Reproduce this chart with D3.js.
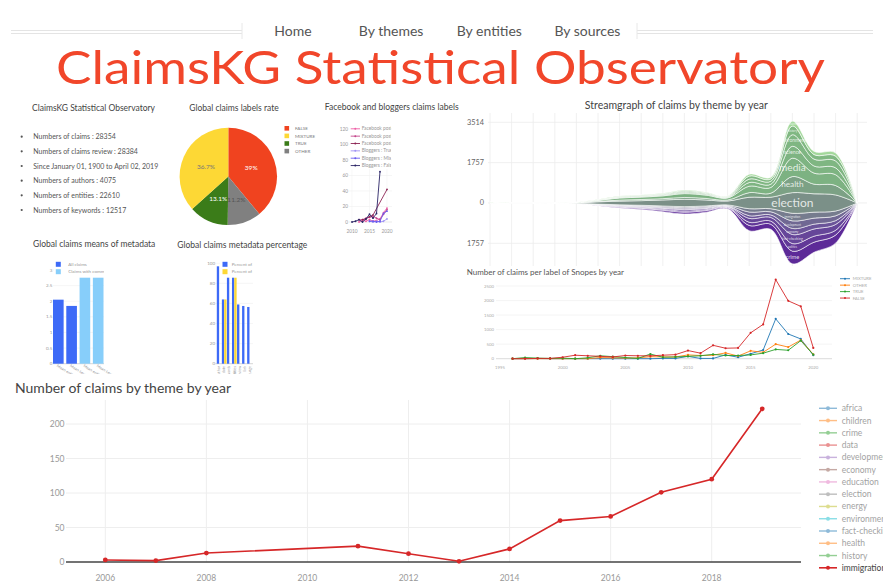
<!DOCTYPE html>
<html>
<head>
<meta charset="utf-8">
<style>
  body { margin: 0; background: #fff; }
  text { font-family: Lato, "Open Sans", sans-serif; }
</style>
</head>
<body>
<div id="container"></div>
<script src="https://d3js.org/d3.v7.min.js"></script>
<script>
// ---------- data ----------
var navItems = ["Home", "By themes", "By entities", "By sources"];
var statLines = ["Numbers of claims : 28354", "Numbers of claims review : 28384",
  "Since January 01, 1900 to April 02, 2019", "Numbers of authors : 4075",
  "Numbers of entities : 22610", "Numbers of keywords : 12517"];

var pieLabels = ["FALSE", "MIXTURE", "TRUE", "OTHER"];
var pieValues = [39, 36.7, 13.1, 11.2];
var pieColors = ["#f0431f", "#fdd835", "#3b7c19", "#808080"];

var fbYears = [2010, 2011, 2012, 2013, 2014, 2015, 2016, 2017, 2018, 2019, 2020];
var fbNames = ["Facebook posts : TRUE", "Facebook posts : MIXTURE", "Facebook posts : FALSE",
  "Bloggers : True", "Bloggers : Mixture", "Bloggers : False"];
var fbColors = ["#ee5ea6", "#c4488c", "#8c2453", "#a093f3", "#6a5cf0", "#2b2566"];
var fbTrue = [null, null, 0, 2, 1, 3, 1, 2, 4, 12, 18];
var fbMixture = [null, null, 3, 3, 5, 6, 7, 5, 3, 10, 16];
var fbFalse = [null, null, null, 3, 4, 7, 9, null, null, null, 42];
var blTrue = [null, null, null, null, null, 1, 0, 1, 0, 1, 4];
var blMixture = [null, null, null, null, null, 1, 1, 0, 1, 11, 14];
var blFalse = [0, 1, 3, 0, 4, 10, 5, 11, 65, null, null];

var streamYears = [2002, 2003, 2004, 2005, 2006, 2007, 2008, 2009, 2010, 2011, 2012, 2013, 2014, 2015, 2016, 2017, 2018, 2019];
var streamThemes = ["crime", "politics", "fact-checking", "economy", "development", "immigration",
  "election", "health", "media", "science", "environment", "history", "entertainment"];
var crimeV = [0, 1, 1, 0, 3, 18, 35, 45, 62, 80, 68, 40, 230, 225, 550, 440, 350, 0];
var politicsV = [0, 0, 0, 1, 1, 10, 20, 27, 38, 48, 40, 25, 140, 135, 330, 262, 210, 0];
var factCheckV = [0, 1, 1, 1, 2, 12, 25, 32, 45, 58, 48, 30, 170, 162, 396, 315, 252, 0];
var economyV = [0, 0, 0, 0, 1, 8, 17, 22, 30, 38, 32, 20, 115, 108, 264, 210, 168, 0];
var developmentV = [0, 1, 1, 0, 2, 12, 22, 28, 38, 48, 42, 26, 160, 135, 330, 262, 210, 0];
var immigrationV = [0, 0, 0, 1, 1, 10, 21, 26, 37, 48, 40, 24, 145, 135, 330, 261, 210, 0];
var electionV = [0, 5, 5, 5, 20, 100, 160, 200, 260, 320, 260, 170, 500, 500, 900, 800, 700, 0];
var healthV = [0, 1, 1, 1, 4, 20, 45, 50, 58, 80, 68, 43, 200, 175, 700, 420, 410, 0];
var mediaV = [30, 3, 3, 3, 8, 42, 92, 105, 122, 168, 143, 92, 280, 250, 800, 480, 470, 0];
var scienceV = [0, 1, 1, 1, 2, 10, 20, 26, 30, 42, 33, 20, 160, 140, 520, 310, 300, 0];
var environmentV = [0, 1, 1, 1, 2, 11, 23, 24, 28, 39, 35, 22, 150, 130, 500, 300, 300, 0];
var historyV = [5, 1, 1, 1, 2, 9, 22, 25, 29, 40, 34, 21, 130, 105, 380, 200, 210, 0];
var entertainmentV = [5, 1, 1, 1, 2, 8, 17, 20, 23, 32, 27, 17, 80, 70, 210, 140, 140, 0];
var streamTicks = [3514, 1757, 0, -1757];

var meansCats = ["Mean entities", "Mean keywords", "Mean entities ", "Mean keywords "];
var meansAll = [2.05, 1.85, null, null];
var meansComments = [null, null, 3.3, 3.3];
var meansNames = ["All claims", "Claims with comments"];

var pctCats = ["author", "date", "keywords", "entities", "review", "link", "language"];
var pctBlue = [97, 64, 95, 98, 59, 57.5, 56.5];
var pctYellow = [null, 64, null, 96, null, null, null];
var pctNames = ["Percent of all claims", "Percent of claims with comments"];

var snYears = [1996, 1997, 1998, 1999, 2000, 2001, 2002, 2003, 2004, 2005, 2006, 2007, 2008,
  2009, 2010, 2011, 2012, 2013, 2014, 2015, 2016, 2017, 2018, 2019, 2020];
var snNames = ["MIXTURE", "OTHER", "TRUE", "FALSE"];
var snColors = ["#1f77b4", "#ff7f0e", "#2ca02c", "#d62728"];
var snMixture = [0, 0, 5, 0, 0, 0, 0, 0, 0, 0, 0, 0, 10, 10, 80, 10, 10, 130, 50, 170, 300, 1370, 850, 680, 120];
var snOther = [0, 0, 0, 0, 0, 0, 0, 40, 30, 20, 30, 70, 60, 60, 130, 110, 120, 200, 90, 270, 220, 500, 400, 640, 150];
var snTrue = [0, 40, 20, 10, 20, 0, 30, 100, 70, 40, 10, 160, 50, 60, 80, 100, 150, 110, 110, 130, 190, 320, 290, 620, 140];
var snFalse = [0, 0, 10, 10, 50, 120, 100, 80, 60, 110, 100, 100, 120, 140, 280, 190, 460, 360, 370, 890, 1180, 2720, 1990, 1800, 370];

var themeYears = [2006, 2007, 2008, 2011, 2012, 2013, 2014, 2015, 2016, 2017, 2018, 2019];
var immigrationCounts = [3, 2, 13, 23, 12, 1, 19, 60, 66, 101, 120, 222];
var legendThemes = ["africa", "children", "crime", "data", "development", "economy", "education",
  "election", "energy", "environment", "fact-checking", "health", "history", "immigration"];
var legendColors = ["#1f77b4", "#ff7f0e", "#2ca02c", "#d62728", "#9467bd", "#8c564b", "#e377c2",
  "#7f7f7f", "#bcbd22", "#17becf", "#1f77b4", "#ff7f0e", "#2ca02c", "#d62728"];

// ---------- page ----------
var svg = d3.select("#container").append("svg")
  .attr("width", 883).attr("height", 587);
var defs = svg.append("defs");
function clip(id, x, y, w, h) {
  defs.append("clipPath").attr("id", id).append("rect")
    .attr("x", x).attr("y", y).attr("width", w).attr("height", h);
  return "url(#" + id + ")";
}

// header nav
[30.5, 33.5].forEach(function (yy) {
  svg.append("line").attr("x1", 11).attr("x2", 242).attr("y1", yy).attr("y2", yy).style("stroke", "#e4e4e4");
  svg.append("line").attr("x1", 637).attr("x2", 873).attr("y1", yy).attr("y2", yy).style("stroke", "#e4e4e4");
});
[242, 637].forEach(function (xx) {
  svg.append("line").attr("x1", xx).attr("x2", xx).attr("y1", 23).attr("y2", 39).style("stroke", "#e8e8e8");
});
var navX = d3.scalePoint().domain(navItems).range([293, 587.4]);
svg.selectAll(".nav").data(navItems).enter().append("text")
  .attr("x", function (d) { return navX(d); }).attr("y", 35.5)
  .attr("text-anchor", "middle").style("font-size", "14px").style("fill", "#555")
  .text(function (d) { return d; });

svg.append("text").attr("x", 56).attr("y", 84)
  .attr("textLength", 769).attr("lengthAdjust", "spacingAndGlyphs")
  .style("font-size", "47px").style("fill", "#f1462a")
  .text("ClaimsKG Statistical Observatory");

function title(txt, x, y, size, anchor, color) {
  svg.append("text").attr("x", x).attr("y", y).attr("text-anchor", anchor || "middle")
    .style("font-size", size + "px").style("fill", color || "#444").text(txt);
}

// stats list
title("ClaimsKG Statistical Observatory", 93.5, 111, 8.5);
var rowY = d3.scaleLinear().domain([0, statLines.length - 1]).range([136.7, 210]);
svg.selectAll(".bul").data(statLines).enter().append("circle")
  .attr("cx", 21.7).attr("cy", function (d, i) { return rowY(i); }).attr("r", 1.1).style("fill", "#555");
svg.selectAll(".stat").data(statLines).enter().append("text")
  .attr("x", 33.3).attr("y", function (d, i) { return rowY(i) + 2.5; })
  .style("font-size", "7px").style("fill", "#555").text(function (d) { return d; });

// ---------- pie ----------
title("Global claims labels rate", 234, 111, 8.5);
var pieOrder = [0, 3, 2, 1];
var pie = d3.pie().sort(null).value(function (i) { return pieValues[i]; });
var arc = d3.arc().innerRadius(0).outerRadius(48.7);
var pg = svg.append("g").attr("transform", "translate(228.3,176.4)");
var arcs = pie(pieOrder);
pg.selectAll("path").data(arcs).enter().append("path")
  .attr("d", arc).style("fill", function (d) { return pieColors[d.data]; });
pg.selectAll("text").data(arcs).enter().append("text")
  .attr("transform", function (d) { var c = arc.centroid(d); return "translate(" + c[0] + "," + (c[1] + 2.3) + ")"; })
  .attr("text-anchor", "middle").style("font-size", "6.5px")
  .style("fill", function (d) { return d.data === 1 ? "#777" : (d.data === 3 ? "#555" : "#fff"); })
  .text(function (d) { return pieValues[d.data] + "%"; });
var pl = svg.append("g");
pieLabels.forEach(function (lab, i) {
  var yy = 128.3 + i * 7.6;
  pl.append("rect").attr("x", 284.5).attr("y", yy - 2.3).attr("width", 4.6).attr("height", 4.6).style("fill", pieColors[i]);
  pl.append("text").attr("x", 295).attr("y", yy + 1.6).style("font-size", "4.6px").style("fill", "#777").text(lab);
});

// ---------- facebook & bloggers ----------
title("Facebook and bloggers claims labels", 391.7, 110, 8.5);
var fx = d3.scaleLinear().domain([2010, 2020]).range([352, 387]);
var fy = d3.scaleLinear().domain([0, 120]).range([222, 129]);
var fbG = svg.append("g");
fbG.selectAll(".g").data(fy.ticks(6)).enter().append("line")
  .attr("x1", 349).attr("x2", 392).attr("y1", function (d) { return fy(d); }).attr("y2", function (d) { return fy(d); })
  .style("stroke", function (d) { return d === 0 ? "#ddd" : "#f0f0f0"; }).style("stroke-width", 0.6);
fbG.selectAll(".gx").data([2010, 2015, 2020]).enter().append("line")
  .attr("x1", function (d) { return fx(d); }).attr("x2", function (d) { return fx(d); })
  .attr("y1", 126).attr("y2", 222).style("stroke", "#f3f3f3").style("stroke-width", 0.6);
fbG.selectAll(".yl").data(fy.ticks(6)).enter().append("text")
  .attr("x", 348).attr("y", function (d) { return fy(d) + 1.7; }).attr("text-anchor", "end")
  .style("font-size", "4.8px").style("fill", "#999").text(function (d) { return d; });
fbG.selectAll(".xl").data([2010, 2015, 2020]).enter().append("text")
  .attr("x", function (d) { return fx(d); }).attr("y", 233.4).attr("text-anchor", "middle")
  .style("font-size", "4.8px").style("fill", "#999").text(function (d) { return d; });
var fbSeries = [fbTrue, fbMixture, fbFalse, blTrue, blMixture, blFalse];
var fbLine = d3.line().x(function (d) { return fx(d[0]); }).y(function (d) { return fy(d[1]); });
fbSeries.forEach(function (vals, s) {
  var pts = fbYears.map(function (yr, i) { return [yr, vals[i]]; }).filter(function (p) { return p[1] != null; });
  fbG.append("path").datum(pts).attr("d", fbLine)
    .style("fill", "none").style("stroke", fbColors[s]).style("stroke-width", 0.9);
  fbG.selectAll(".m" + s).data(pts).enter().append("circle")
    .attr("cx", function (d) { return fx(d[0]); }).attr("cy", function (d) { return fy(d[1]); })
    .attr("r", 0.9).style("fill", fbColors[s]);
});
var fbLeg = svg.append("g").attr("clip-path", clip("fbclip", 348, 120, 43, 60));
fbLeg.append("rect").attr("x", 349.5).attr("y", 125.5).attr("width", 42).attr("height", 43.5).style("fill", "#fff");
fbNames.forEach(function (n, i) {
  var yy = 128.8 + i * 7.35;
  fbLeg.append("line").attr("x1", 350.7).attr("x2", 360).attr("y1", yy).attr("y2", yy)
    .style("stroke", fbColors[i]).style("stroke-width", 0.9);
  fbLeg.append("circle").attr("cx", 355.3).attr("cy", yy).attr("r", 1).style("fill", fbColors[i]);
  fbLeg.append("text").attr("x", 361.7).attr("y", yy + 1.6).style("font-size", "4.8px").style("fill", "#999").text(n);
});

// ---------- streamgraph ----------
title("Streamgraph of claims by theme by year", 676.3, 109.3, 10.5);
var streamValues = {
  "crime": crimeV, "politics": politicsV, "fact-checking": factCheckV, "economy": economyV,
  "development": developmentV, "immigration": immigrationV, "election": electionV, "health": healthV,
  "media": mediaV, "science": scienceV, "environment": environmentV, "history": historyV,
  "entertainment": entertainmentV
};
var streamRows = streamYears.map(function (yr, i) {
  var r = { year: yr };
  streamThemes.forEach(function (k) { r[k] = streamValues[k][i]; });
  return r;
});
var layers = d3.stack().keys(streamThemes)(streamRows);
var centerIdx = streamThemes.indexOf("election");
// zero line runs through the middle of the "election" layer
streamRows.forEach(function (row, j) {
  var base = layers[centerIdx][j][0] + row.election / 2;
  layers.forEach(function (L) { L[j][0] -= base; L[j][1] -= base; });
});
var sx = d3.scaleLinear().domain([2002, 2019]).range([490, 857.2]);
var sy = d3.scaleLinear().domain([-1757, 3514]).range([243.3, 122.3]);
var stG = svg.append("g");
stG.selectAll(".vg").data(streamYears).enter().append("line")
  .attr("x1", function (d) { return sx(d); }).attr("x2", function (d) { return sx(d); })
  .attr("y1", 113).attr("y2", 266).style("stroke", "#ececec").style("stroke-width", 0.8);
stG.selectAll(".hg").data(streamTicks).enter().append("line")
  .attr("x1", 488).attr("x2", 867).attr("y1", function (d) { return sy(d); }).attr("y2", function (d) { return sy(d); })
  .style("stroke", "#ececec").style("stroke-width", 0.8);
stG.selectAll(".yl").data(streamTicks).enter().append("text")
  .attr("x", 484).attr("y", function (d) { return sy(d) + 2.5; }).attr("text-anchor", "end")
  .style("font-size", "7.3px").style("fill", "#666").text(function (d) { return Math.abs(d); });
var layerColor = d3.scaleLinear().domain([0, 3, 6, 8, 11, 12])
  .range(["#5d2a98", "#6b5499", "#7b9088", "#7db282", "#80b882", "#a3d89b"]);
var sArea = d3.area().curve(d3.curveCatmullRom)
  .x(function (d) { return sx(d.data.year); })
  .y0(function (d) { return sy(d[0]); }).y1(function (d) { return sy(d[1]); });
var stPlot = stG.append("g").attr("clip-path", clip("stclip", 486, 112, 385, 155));
stPlot.selectAll("path").data(layers).enter().append("path")
  .attr("d", sArea).style("fill", function (d, i) { return layerColor(i); })
  .style("stroke", "#fff").style("stroke-width", 0.7).style("stroke-opacity", 0.85);
layers.forEach(function (L) {
  var best = d3.maxIndex(L, function (d) { return d[1] - d[0]; });
  var p = L[best];
  var thick = sy(0) - sy(p[1] - p[0]);
  var fs = Math.max(3, Math.min(12, 0.128 * Math.pow(thick, 1.5)));
  stPlot.append("text").attr("x", sx(p.data.year)).attr("y", sy((p[0] + p[1]) / 2) + fs * 0.35)
    .attr("text-anchor", "middle").style("font-size", fs + "px").style("fill", "#fff").style("fill-opacity", 0.8)
    .text(L.key);
});

// ---------- global claims means of metadata ----------
title("Global claims means of metadata", 94.2, 246.5, 8.5);
var mx = d3.scaleBand().domain(meansCats).range([53, 103.5]).paddingInner(0.2);
var my = d3.scaleLinear().domain([0, 3]).range([363.7, 270]);
var mG = svg.append("g").attr("clip-path", clip("mclip", 0, 250, 170, 124));
var mTicks = [0, 0.5, 1, 1.5, 2, 2.5, 3];
mG.selectAll(".g").data(mTicks).enter().append("line")
  .attr("x1", 53).attr("x2", 104).attr("y1", function (d) { return my(d); }).attr("y2", function (d) { return my(d); })
  .style("stroke", function (d) { return d === 0 ? "#bbb" : "#f0f0f0"; }).style("stroke-width", 0.6);
mG.selectAll(".yl").data(mTicks).enter().append("text")
  .attr("x", 52.3).attr("y", function (d) { return my(d) + 1.6; }).attr("text-anchor", "end")
  .style("font-size", "4.5px").style("fill", "#999").text(function (d) { return d; });
[[meansAll, "#3d6af7"], [meansComments, "#87cefa"]].forEach(function (s) {
  mG.selectAll(null).data(meansCats.filter(function (c, i) { return s[0][i] != null; })).enter().append("rect")
    .attr("x", function (c) { return mx(c); }).attr("width", mx.bandwidth())
    .attr("y", function (c) { return my(s[0][meansCats.indexOf(c)]); })
    .attr("height", function (c) { return my(0) - my(s[0][meansCats.indexOf(c)]); })
    .style("fill", s[1]);
});
mG.selectAll(".xl").data(meansCats).enter().append("text")
  .attr("transform", function (c) { return "translate(" + (mx(c) + mx.bandwidth() / 2 - 2) + ",366.5) rotate(32)"; })
  .style("font-size", "4px").style("fill", "#999").text(function (c) { return c; });
var mLeg = svg.append("g").attr("clip-path", clip("mlclip", 53, 258, 51, 22));
mLeg.append("rect").attr("x", 54).attr("y", 259).attr("width", 50).attr("height", 18.7).style("fill", "#fff");
meansNames.forEach(function (n, i) {
  var yy = 264.3 + i * 7.4;
  mLeg.append("rect").attr("x", 55.8).attr("y", yy - 2.5).attr("width", 5).attr("height", 5).style("fill", i ? "#87cefa" : "#3d6af7");
  mLeg.append("text").attr("x", 68.3).attr("y", yy + 1.5).style("font-size", "4.5px").style("fill", "#999").text(n);
});

// ---------- global claims metadata percentage ----------
title("Global claims metadata percentage", 242.3, 248, 8.5);
var px = d3.scaleBand().domain(pctCats).range([216.8, 251.8]).paddingInner(0.08);
var psub = d3.scaleBand().domain([0, 1]).range([0, px.bandwidth()]);
var py = d3.scaleLinear().domain([0, 100]).range([363.7, 263.3]);
var pG = svg.append("g").attr("clip-path", clip("pclip", 170, 250, 150, 124));
pG.selectAll(".g").data(py.ticks(5)).enter().append("line")
  .attr("x1", 215.5).attr("x2", 253).attr("y1", function (d) { return py(d); }).attr("y2", function (d) { return py(d); })
  .style("stroke", function (d) { return d === 0 ? "#bbb" : "#f0f0f0"; }).style("stroke-width", 0.6);
pG.selectAll(".yl").data(py.ticks(5)).enter().append("text")
  .attr("x", 215).attr("y", function (d) { return py(d) + 1.6; }).attr("text-anchor", "end")
  .style("font-size", "4.5px").style("fill", "#999").text(function (d) { return d; });
[[pctBlue, "#3d6af7"], [pctYellow, "#fdd835"]].forEach(function (s, si) {
  pG.selectAll(null).data(pctCats.filter(function (c, i) { return s[0][i] != null; })).enter().append("rect")
    .attr("x", function (c) { return px(c) + psub(si); }).attr("width", psub.bandwidth())
    .attr("y", function (c) { return py(s[0][pctCats.indexOf(c)]); })
    .attr("height", function (c) { return py(0) - py(s[0][pctCats.indexOf(c)]); })
    .style("fill", s[1]);
});
pG.selectAll(".xl").data(pctCats).enter().append("text")
  .attr("transform", function (c) { return "translate(" + (px(c) + px.bandwidth() / 2 + 1.2) + ",366) rotate(-90)"; })
  .attr("text-anchor", "end").style("font-size", "3.6px").style("fill", "#999").text(function (c) { return c; });
var pLeg = svg.append("g").attr("clip-path", clip("plclip", 219, 258, 33.5, 22));
pLeg.append("rect").attr("x", 220).attr("y", 259).attr("width", 33).attr("height", 18.7).style("fill", "#fff");
pctNames.forEach(function (n, i) {
  var yy = 264.3 + i * 7.4;
  pLeg.append("rect").attr("x", 222.5).attr("y", yy - 2.5).attr("width", 5).attr("height", 5).style("fill", i ? "#fdd835" : "#3d6af7");
  pLeg.append("text").attr("x", 231.7).attr("y", yy + 1.5).style("font-size", "4.5px").style("fill", "#999").text(n);
});

// ---------- snopes ----------
title("Number of claims per label of Snopes by year", 466.7, 274.5, 8, "start", "#555");
var nx = d3.scaleLinear().domain([1995, 2020]).range([500, 813.3]);
var ny = d3.scaleLinear().domain([0, 2500]).range([358.7, 286]);
var nG = svg.append("g");
nG.selectAll(".g").data(ny.ticks(5)).enter().append("line")
  .attr("x1", 496).attr("x2", 832).attr("y1", function (d) { return ny(d); }).attr("y2", function (d) { return ny(d); })
  .style("stroke", function (d) { return d === 0 ? "#ccc" : "#f0f0f0"; }).style("stroke-width", 0.7);
nG.selectAll(".yl").data(ny.ticks(5)).enter().append("text")
  .attr("x", 494).attr("y", function (d) { return ny(d) + 1.5; }).attr("text-anchor", "end")
  .style("font-size", "4.3px").style("fill", "#aaa").text(function (d) { return d; });
nG.selectAll(".xl").data(nx.ticks(5)).enter().append("text")
  .attr("x", function (d) { return nx(d); }).attr("y", 369).attr("text-anchor", "middle")
  .style("font-size", "4.3px").style("fill", "#aaa").text(function (d) { return d; });
var snSeries = [snMixture, snOther, snTrue, snFalse];
var nLine = d3.line().x(function (d, i) { return nx(snYears[i]); }).y(function (d) { return ny(d); });
snSeries.forEach(function (vals, s) {
  nG.append("path").datum(vals).attr("d", nLine)
    .style("fill", "none").style("stroke", snColors[s]).style("stroke-width", 0.9);
  nG.selectAll(".m" + s).data(vals).enter().append("circle")
    .attr("cx", function (d, i) { return nx(snYears[i]); }).attr("cy", function (d) { return ny(d); })
    .attr("r", 1.1).style("fill", snColors[s]);
});
snNames.forEach(function (n, i) {
  var yy = 278.7 + i * 6.45;
  nG.append("line").attr("x1", 840).attr("x2", 850).attr("y1", yy).attr("y2", yy).style("stroke", snColors[i]).style("stroke-width", 0.9);
  nG.append("circle").attr("cx", 845).attr("cy", yy).attr("r", 1).style("fill", snColors[i]);
  nG.append("text").attr("x", 852.7).attr("y", yy + 1.5).style("font-size", "4.3px").style("fill", "#aaa").text(n);
});

// ---------- number of claims by theme by year ----------
title("Number of claims by theme by year", 15, 393, 14, "start", "#444");
var bx = d3.scaleLinear().domain([2006, 2018]).range([105.3, 711.7]);
var by = d3.scaleLinear().domain([0, 200]).range([562, 424]);
var bG = svg.append("g");
var bxTicks = [2006, 2008, 2010, 2012, 2014, 2016, 2018];
bG.selectAll(".vg").data(bxTicks).enter().append("line")
  .attr("x1", function (d) { return bx(d); }).attr("x2", function (d) { return bx(d); })
  .attr("y1", 400).attr("y2", 562).style("stroke", "#eee");
bG.selectAll(".hg").data([50, 100, 150, 200]).enter().append("line")
  .attr("x1", 66).attr("x2", 801).attr("y1", function (d) { return by(d); }).attr("y2", function (d) { return by(d); })
  .style("stroke", "#eee");
bG.append("line").attr("x1", 66).attr("x2", 801).attr("y1", by(0)).attr("y2", by(0))
  .style("stroke", "#444").style("stroke-width", 1.5);
bG.selectAll(".yl").data(by.ticks(4)).enter().append("text")
  .attr("x", 64.5).attr("y", function (d) { return by(d) + 3; }).attr("text-anchor", "end")
  .style("font-size", "8.5px").style("fill", "#999").text(function (d) { return d; });
bG.selectAll(".xl").data(bxTicks).enter().append("text")
  .attr("x", function (d) { return bx(d); }).attr("y", 581).attr("text-anchor", "middle")
  .style("font-size", "8.5px").style("fill", "#999").text(function (d) { return d; });
var bLine = d3.line().x(function (d, i) { return bx(themeYears[i]); }).y(function (d) { return by(d); });
bG.append("path").datum(immigrationCounts).attr("d", bLine)
  .style("fill", "none").style("stroke", "#d62728").style("stroke-width", 1.6);
bG.selectAll(".pt").data(immigrationCounts).enter().append("circle")
  .attr("cx", function (d, i) { return bx(themeYears[i]); }).attr("cy", function (d) { return by(d); })
  .attr("r", 2.4).style("fill", "#d62728");
legendThemes.forEach(function (n, i) {
  var yy = 408.3 + i * 12.27;
  var on = n === "immigration";
  var g = bG.append("g").style("opacity", on ? 1 : 0.5);
  g.append("line").attr("x1", 819).attr("x2", 837).attr("y1", yy).attr("y2", yy)
    .style("stroke", legendColors[i]).style("stroke-width", on ? 1.6 : 1.4);
  g.append("circle").attr("cx", 828).attr("cy", yy).attr("r", 2).style("fill", legendColors[i]);
  g.append("text").attr("x", 841.7).attr("y", yy + 3).style("font-size", "8.5px").style("fill", "#444").text(n);
});
</script>
</body>
</html>
